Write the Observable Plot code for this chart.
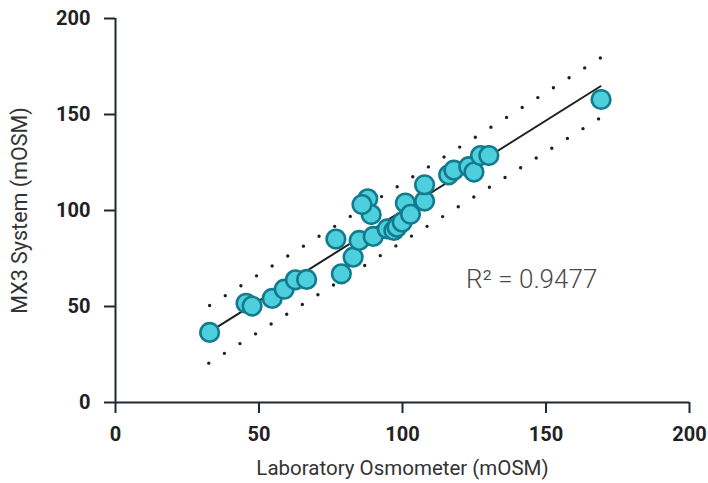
<!DOCTYPE html>
<html>
<head>
<meta charset="utf-8">
<script src="https://cdn.jsdelivr.net/npm/d3@7"></script>
<script src="https://cdn.jsdelivr.net/npm/@observablehq/plot@0.6"></script>
<style>
  html, body { margin: 0; padding: 0; background: #fff; }
  #chart { width: 708px; height: 483px; }
</style>
</head>
<body>
<div id="chart"></div>
<script>
// Scatter data: Laboratory Osmometer (x) vs MX3 System (y)
const labOsm = [32.8, 45.5, 47.6, 54.6, 58.8, 62.7, 66.6, 76.8, 78.7, 82.8, 84.9, 87.9, 89.1, 85.9, 89.8, 94.7, 97.0, 98.1, 99.9, 101.0, 102.8, 107.7, 107.7, 116.1, 117.9, 123.1, 124.9, 127.2, 130.1, 169.2];
const mx3 = [36.5, 51.7, 50.2, 54.2, 59.0, 63.9, 64.1, 85.1, 67.0, 75.7, 84.4, 106.1, 97.9, 103.1, 86.5, 90.4, 89.6, 91.3, 93.9, 103.9, 98.0, 104.9, 113.4, 118.6, 121.0, 122.8, 120.0, 128.6, 128.6, 157.8];

// Fit line and prediction bands (endpoints)
const fitX = [33, 169];
const fitY = [37.0, 164.7];
const upperX = [32.8, 169];
const upperY = [50.5, 179.5];
const lowerX = [32.5, 168.4];
const lowerY = [20.5, 147.8];

const xTicks = [0, 50, 100, 150, 200];
const yTicks = [0, 50, 100, 150, 200];
const xTitle = "Laboratory Osmometer (mOSM)";
const yTitle = "MX3 System (mOSM)";
const r2Label = "R² = 0.9477";
const r2Pos = {x: 145, y: 64};

const points = labOsm.map((x, i) => ({x, y: mx3[i]}));
const fit = fitX.map((x, i) => ({x, y: fitY[i]}));
const upper = upperX.map((x, i) => ({x, y: upperY[i]}));
const lower = lowerX.map((x, i) => ({x, y: lowerY[i]}));

const axisColor = "#1e2833";

const chart = Plot.plot({
  width: 708,
  height: 483,
  marginLeft: 115,
  marginRight: 19,
  marginTop: 18,
  marginBottom: 81,
  style: {fontFamily: "Roboto, 'Noto Sans', sans-serif", background: "#fff", overflow: "visible"},
  x: {domain: [0, 200]},
  y: {domain: [0, 200]},
  marks: [
    Plot.ruleY([0], {stroke: axisColor, strokeWidth: 2}),
    Plot.ruleX([0], {stroke: axisColor, strokeWidth: 2}),
    Plot.axisX(xTicks, {tickSize: 11, tickPadding: 13, fontSize: 20, fontWeight: "bold", stroke: axisColor, strokeWidth: 2, fill: "#222", label: null}),
    Plot.axisY(yTicks, {tickSize: 11, tickPadding: 14, fontSize: 20, fontWeight: "bold", stroke: axisColor, strokeWidth: 2, fill: "#222", label: null}),
    Plot.line(upper, {x: "x", y: "y", stroke: "#1a1f26", strokeWidth: 3.4, strokeDasharray: "0 18.5", strokeLinecap: "round"}),
    Plot.line(lower, {x: "x", y: "y", stroke: "#1a1f26", strokeWidth: 3.4, strokeDasharray: "0 18.4", strokeLinecap: "round"}),
    Plot.line(fit, {x: "x", y: "y", stroke: "#1f1f1f", strokeWidth: 2}),
    Plot.dot(points, {x: "x", y: "y", r: 9.3, fill: "#4ecfdd", stroke: "#127b8e", strokeWidth: 2.6, fillOpacity: 1}),
    Plot.text([r2Label], {x: () => r2Pos.x, y: () => r2Pos.y, text: d => d, fontSize: 26, fontWeight: 300, fill: "#4a4a4a", textAnchor: "middle"}),
    Plot.text([xTitle], {frameAnchor: "bottom", dy: 66, lineAnchor: "middle", textAnchor: "middle", text: d => d, fontSize: 20.5, fill: "#333"}),
    Plot.text([yTitle], {frameAnchor: "left", dx: -95, rotate: -90, lineAnchor: "middle", textAnchor: "middle", text: d => d, fontSize: 21.5, fill: "#333"})
  ]
});
document.getElementById("chart").appendChild(chart);
</script>
</body>
</html>
